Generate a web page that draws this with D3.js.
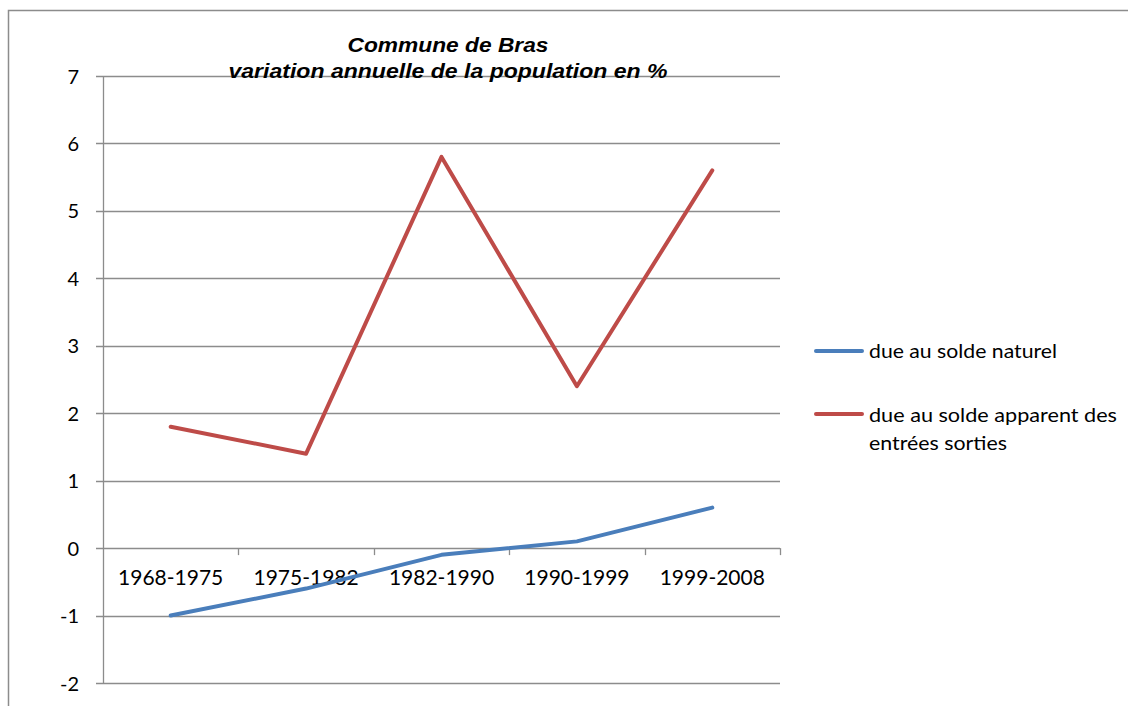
<!DOCTYPE html>
<html><head><meta charset="utf-8">
<script src="https://cdn.jsdelivr.net/npm/d3@7"></script>
<style>body{margin:0;background:#fff}svg{display:block}</style>
</head><body>
<svg id="c" width="1128" height="706"></svg>
<script>
const categories = ["1968-1975","1975-1982","1982-1990","1990-1999","1999-2008"];
const naturel = [-1.0, -0.6, -0.1, 0.1, 0.6];
const apparent = [1.8, 1.4, 5.8, 2.4, 5.6];
const yTicks = [-2,-1,0,1,2,3,4,5,6,7];
const seriesNames = ["due au solde naturel", "due au solde apparent des entrées sorties"];
const colors = ["#4a7ebb", "#be4b48"];

const svg = d3.select("#c");
svg.append("rect").attr("x",8.5).attr("y",10.5).attr("width",1130).attr("height",710)
  .attr("fill","none").attr("stroke","#8c8c8c").attr("stroke-width",1.5);

const L=103, R=780, T=76, B=683;
const x = d3.scaleBand().domain(categories).range([L,R]);
const y = d3.scaleLinear().domain([-2,7]).range([B,T]);

// gridlines
svg.append("g").selectAll("line").data(yTicks).join("line")
  .attr("x1",96).attr("x2",R).attr("y1",d=>Math.round(y(d))+0.5).attr("y2",d=>Math.round(y(d))+0.5)
  .attr("stroke","#8c8c8c").attr("stroke-width",1.3);
// y axis line
svg.append("line").attr("x1",L+0.5).attr("x2",L+0.5).attr("y1",T).attr("y2",B)
  .attr("stroke","#8c8c8c").attr("stroke-width",1.3);
// y labels
svg.append("g").selectAll("text").data(yTicks).join("text")
  .attr("x",79).attr("y",d=>y(d)+7.5).attr("text-anchor","end")
  .attr("font-family","Lato, sans-serif").attr("font-size",20).attr("fill","#000")
  .text(d=>d);
// x tick marks on zero axis
const bounds = categories.map(c=>x(c)+x.bandwidth());
svg.append("g").selectAll("line").data(bounds).join("line")
  .attr("x1",d=>Math.round(d)+0.5).attr("x2",d=>Math.round(d)+0.5)
  .attr("y1",y(0)).attr("y2",y(0)+7).attr("stroke","#8c8c8c").attr("stroke-width",1.3);
// category labels
svg.append("g").selectAll("text").data(categories).join("text")
  .attr("x",d=>x(d)+x.bandwidth()/2).attr("y",y(0)+37).attr("text-anchor","middle")
  .attr("font-family","Lato, sans-serif").attr("font-size",21).attr("fill","#000")
  .text(d=>d);

const line = d3.line().x((d,i)=>x(categories[i])+x.bandwidth()/2).y(d=>y(d));
[naturel, apparent].forEach((s,i)=>{
  svg.append("path").datum(s).attr("d",line).attr("fill","none")
    .attr("stroke",colors[i]).attr("stroke-width",4).attr("stroke-linejoin","round").attr("stroke-linecap","round");
});

// title
const title = svg.append("text").attr("text-anchor","middle")
  .attr("font-family","Liberation Sans, Arial, sans-serif").attr("font-size",19.5)
  .attr("font-weight","bold").attr("font-style","italic").attr("fill","#000");
title.append("tspan").attr("x",448).attr("y",52).attr("textLength",201).attr("lengthAdjust","spacingAndGlyphs").text("Commune de Bras");
title.append("tspan").attr("x",448).attr("y",78).attr("textLength",439).attr("lengthAdjust","spacingAndGlyphs").text("variation annuelle de la population en %");

// legend
const legY = [351, 414];
seriesNames.forEach((n,i)=>{
  svg.append("line").attr("x1",816).attr("x2",862).attr("y1",legY[i]).attr("y2",legY[i])
    .attr("stroke",colors[i]).attr("stroke-width",4).attr("stroke-linecap","round");
});
const lg = svg.append("g").attr("font-family","Lato, sans-serif").attr("font-size",19).attr("fill","#000");
lg.append("text").attr("x",869).attr("y",358).attr("textLength",188).attr("lengthAdjust","spacingAndGlyphs").text(seriesNames[0]);
const t2 = lg.append("text");
t2.append("tspan").attr("x",869).attr("y",422).attr("textLength",248).attr("lengthAdjust","spacingAndGlyphs").text("due au solde apparent des");
t2.append("tspan").attr("x",869).attr("y",450).attr("textLength",138).attr("lengthAdjust","spacingAndGlyphs").text("entrées sorties");
</script>
</body></html>
